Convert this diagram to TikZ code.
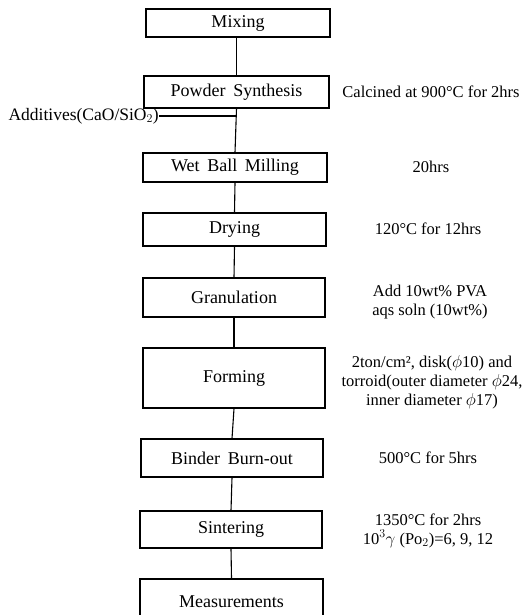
\documentclass[tikz,border=0pt]{standalone}
\usepackage{fontspec}
\setmainfont{Liberation Serif}
\newcommand{\boxfont}{\fontsize{18}{20}\selectfont\spaceskip=0.42em plus 0.1em}
\begin{document}
\begin{tikzpicture}[x=1pt,y=-1pt,
  stepbox/.style={draw, line width=1.1pt, inner sep=0pt, font=\boxfont},
  note/.style={font=\fontsize{16.5}{19}\selectfont, align=center, inner sep=0pt},
  conn/.style={line width=1.1pt}]
\useasboundingbox (0,0) rectangle (525,615);
\clip (0,0) rectangle (525,615);
\node[stepbox, minimum width=184pt, minimum height=28pt] (mix) at (238,23) {Mixing};
\node[stepbox, minimum width=185pt, minimum height=32pt] (pow) at (236.5,92) {Powder Synthesis};
\node[stepbox, minimum width=184pt, minimum height=29pt] (wet) at (235,167.5) {Wet Ball Milling};
\node[stepbox, minimum width=183pt, minimum height=33pt] (dry) at (234.5,229.5) {Drying};
\node[stepbox, minimum width=182pt, minimum height=39pt] (gran) at (234,297.5) {Granulation};
\node[stepbox, minimum width=182pt, minimum height=60pt] (form) at (234,378) {Forming};
\node[stepbox, minimum width=182pt, minimum height=38pt] (bind) at (232,458) {Binder Burn-out};
\node[stepbox, minimum width=182pt, minimum height=37pt] (sint) at (231,529.5) {Sintering};
\node[stepbox, minimum width=183pt, minimum height=61pt] (meas) at (231.5,609.5) {};
\node[font=\boxfont, inner sep=0pt] (meastext) at (231.5,602) {Measurements};

\node[note, font=\fontsize{17.5}{19}\selectfont, anchor=east] (add) at (159,116) {Additives(CaO/SiO$_2$)};

\node[note] (n1) at (431,92) {Calcined at 900°C for 2hrs};
\node[note] (n2) at (431,167) {20hrs};
\node[note] (n3) at (428,229) {120°C for 12hrs};
\node[note] (n4) at (430,302) {Add 10wt\% PVA\\aqs soln (10wt\%)};
\node[note] (n5) at (432,382.5) {2ton/cm², disk($\phi$10) and\\torroid(outer diameter $\phi$24,\\inner diameter $\phi$17)};
\node[note] (n6) at (428,458) {500°C for 5hrs};
\node[note] (n7) at (428,530.5) {1350°C for 2hrs\\10$^3\gamma$ (Po$_2$)=6, 9, 12};

\draw[conn] (pow.north |- mix.south) -- (pow.north);
\draw[conn] (pow.south) -- (wet.north);
\draw[conn] (wet.south) -- (dry.north);
\draw[conn] (dry.south) -- (gran.north);
\draw[conn] (gran.south) -- (form.north);
\draw[conn] (form.south) -- (bind.north);
\draw[conn] (bind.south) -- (sint.north);
\draw[conn] (sint.south) -- (meas.north);
\draw[conn] (add.east) -- (pow.south |- add.east);
\end{tikzpicture}
\end{document}
